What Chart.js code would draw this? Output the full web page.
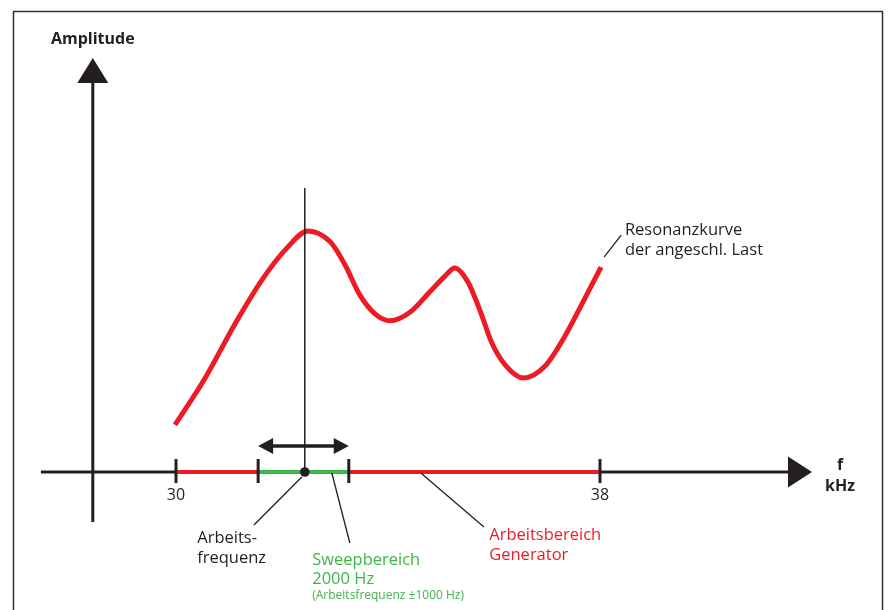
<!DOCTYPE html>
<html>
<head>
<meta charset="utf-8">
<script src="https://cdn.jsdelivr.net/npm/chart.js@4/dist/chart.umd.min.js"></script>
<style>
  body { margin: 0; background: #fff; }
  #wrap { width: 889px; height: 610px; position: relative; }
</style>
</head>
<body>
<div id="wrap"><canvas id="resonanceChart"></canvas></div>
<script>
// resonance curve of the connected load (kHz / relative amplitude)
const freq = [29.98, 30.55, 31.11, 31.62, 32.09, 32.49, 32.91, 33.19, 33.47, 33.76, 34.04,
              34.42, 34.79, 35.08, 35.26, 35.51, 35.74, 35.96, 36.21, 36.55,
              36.96, 37.34, 37.68, 38.02];
const amp = [1.12, 2.24, 3.52, 4.57, 5.33, 5.74, 5.48, 4.93, 4.21, 3.76, 3.60,
             3.81, 4.29, 4.67, 4.86, 4.52, 3.83, 3.07, 2.55, 2.24,
             2.52, 3.24, 4.05, 4.88];

// tick marks on the frequency axis
const tickValues = [30, 31.55, 33.26, 38];
const tickLabels = ["30", "", "", "38"];

// generator range, sweep range and working frequency (kHz)
const generatorRange = [30, 38];
const sweepRange = [31.55, 33.26];
const workFreq = 32.43;
const cursorTop = 6.76;
const sweepArrowLevel = 0.62;

// axis extents
const xAxisRange = [27.45, 42.0];
const yAxisRange = [-1.19, 9.86];
const yAxisAt = 28.43;

const RED = "#ed1c24";
const GREEN = "#3fb44a";
const INK = "#231f20";
const FONT = "'Open Sans', 'Noto Sans', sans-serif";

function line(ctx, x1, y1, x2, y2, w, color) {
    ctx.beginPath();
    ctx.moveTo(x1, y1);
    ctx.lineTo(x2, y2);
    ctx.lineWidth = w;
    ctx.strokeStyle = color;
    ctx.stroke();
}

function tri(ctx, pts, color) {
    ctx.beginPath();
    ctx.moveTo(pts[0], pts[1]);
    ctx.lineTo(pts[2], pts[3]);
    ctx.lineTo(pts[4], pts[5]);
    ctx.closePath();
    ctx.fillStyle = color;
    ctx.fill();
}

function text(ctx, lines, x, y, size, color, bold, align, lh) {
    ctx.font = (bold ? "bold " : "") + size + "px " + FONT;
    ctx.fillStyle = color;
    ctx.textAlign = align || "left";
    ctx.textBaseline = "alphabetic";
    lines.forEach(function(s, i) {
        ctx.fillText(s, x, y + i * (lh || 0));
    });
}

const schematic = {
    id: "schematic",
    afterDatasetsDraw(chart) {
        const ctx = chart.ctx;
        const xs = chart.scales.x;
        const ys = chart.scales.y;
        const px = v => xs.getPixelForValue(v);
        const py = v => ys.getPixelForValue(v);
        const y0 = py(0);
        ctx.save();
        ctx.lineCap = "butt";

        // frame
        ctx.lineWidth = 1.5;
        ctx.strokeStyle = "#333";
        ctx.strokeRect(13.5, 11.5, 869, 640);

        // y axis with arrow
        const ax = px(yAxisAt);
        line(ctx, ax, py(yAxisRange[0]), ax, py(yAxisRange[1]) + 20, 3, INK);
        const yt = py(yAxisRange[1]);
        tri(ctx, [ax, yt, ax - 15.5, yt + 25, ax + 15.5, yt + 25], INK);

        // x axis with arrow
        const xt = px(xAxisRange[1]);
        line(ctx, px(xAxisRange[0]), y0, xt - 20, y0, 3, INK);
        tri(ctx, [xt, y0, xt - 24, y0 - 15.5, xt - 24, y0 + 15.5], INK);

        // generator and sweep ranges
        line(ctx, px(generatorRange[0]), y0, px(generatorRange[1]), y0, 4, RED);
        line(ctx, px(sweepRange[0]), y0, px(sweepRange[1]), y0, 4, GREEN);

        // ticks
        tickValues.forEach(function(v, i) {
            const x = px(v);
            line(ctx, x, y0 - 13, x, y0 + 11, 3, INK);
            if (tickLabels[i]) text(ctx, [tickLabels[i]], x, y0 + 28, 16, INK, false, "center");
        });

        // working frequency cursor
        const wx = px(workFreq);
        line(ctx, wx, py(cursorTop), wx, y0, 1.5, INK);
        ctx.beginPath();
        ctx.arc(wx, y0, 4.8, 0, Math.PI * 2);
        ctx.fillStyle = INK;
        ctx.fill();

        // sweep double arrow
        const ay = py(sweepArrowLevel);
        const l = px(sweepRange[0]), r = px(sweepRange[1]);
        line(ctx, l + 10, ay, r - 10, ay, 3.5, INK);
        tri(ctx, [l, ay, l + 15, ay - 8, l + 15, ay + 8], INK);
        tri(ctx, [r, ay, r - 15, ay - 8, r - 15, ay + 8], INK);

        // leader lines
        line(ctx, wx - 3, y0 + 5, px(31.47), py(-1.26), 1.3, INK);
        line(ctx, px(32.94), y0 + 1, px(33.28), py(-1.69), 1.3, INK);
        line(ctx, px(34.62), y0 + 1, px(35.81), py(-1.31), 1.3, INK);
        line(ctx, px(38.08), py(5.12), px(38.40), py(5.64), 1.3, INK);

        // labels
        text(ctx, ["Amplitude"], ax, py(10.19), 16, INK, true, "center");
        text(ctx, ["f", "kHz"], px(42.53), py(0.048), 16, INK, true, "center", 21);
        text(ctx, ["Resonanzkurve", "der angeschl. Last"], px(38.47), py(5.643), 16.5, INK, false, "left", 20);
        text(ctx, ["Arbeits-", "frequenz"], px(30.40), py(-1.69), 16.5, INK, false, "left", 20);
        text(ctx, ["Sweepbereich", "2000 Hz"], px(32.57), py(-2.214), 16.5, GREEN, false, "left", 19);
        text(ctx, ["(Arbeitsfrequenz \u00b11000 Hz)"], px(32.57), py(-2.214) + 34, 12, GREEN, false, "left");
        text(ctx, ["Arbeitsbereich", "Generator"], px(35.91), py(-1.619), 16.5, RED, false, "left", 20);

        ctx.restore();
    }
};

new Chart(document.getElementById("resonanceChart"), {
    type: "line",
    data: {
        datasets: [{
            label: "Resonanzkurve der angeschl. Last",
            data: freq.map((f, i) => ({ x: f, y: amp[i] })),
            borderColor: RED,
            borderWidth: 5,
            pointRadius: 0,
            cubicInterpolationMode: "monotone",
            fill: false
        }]
    },
    options: {
        responsive: true,
        maintainAspectRatio: false,
        animation: false,
        layout: { padding: { left: 17, right: 24, top: 52, bottom: 12 } },
        plugins: {
            legend: { display: false },
            tooltip: { enabled: false }
        },
        scales: {
            x: { type: "linear", min: 27, max: 43, display: false },
            y: { min: -3, max: 10, display: false }
        }
    },
    plugins: [schematic]
});
</script>
</body>
</html>
